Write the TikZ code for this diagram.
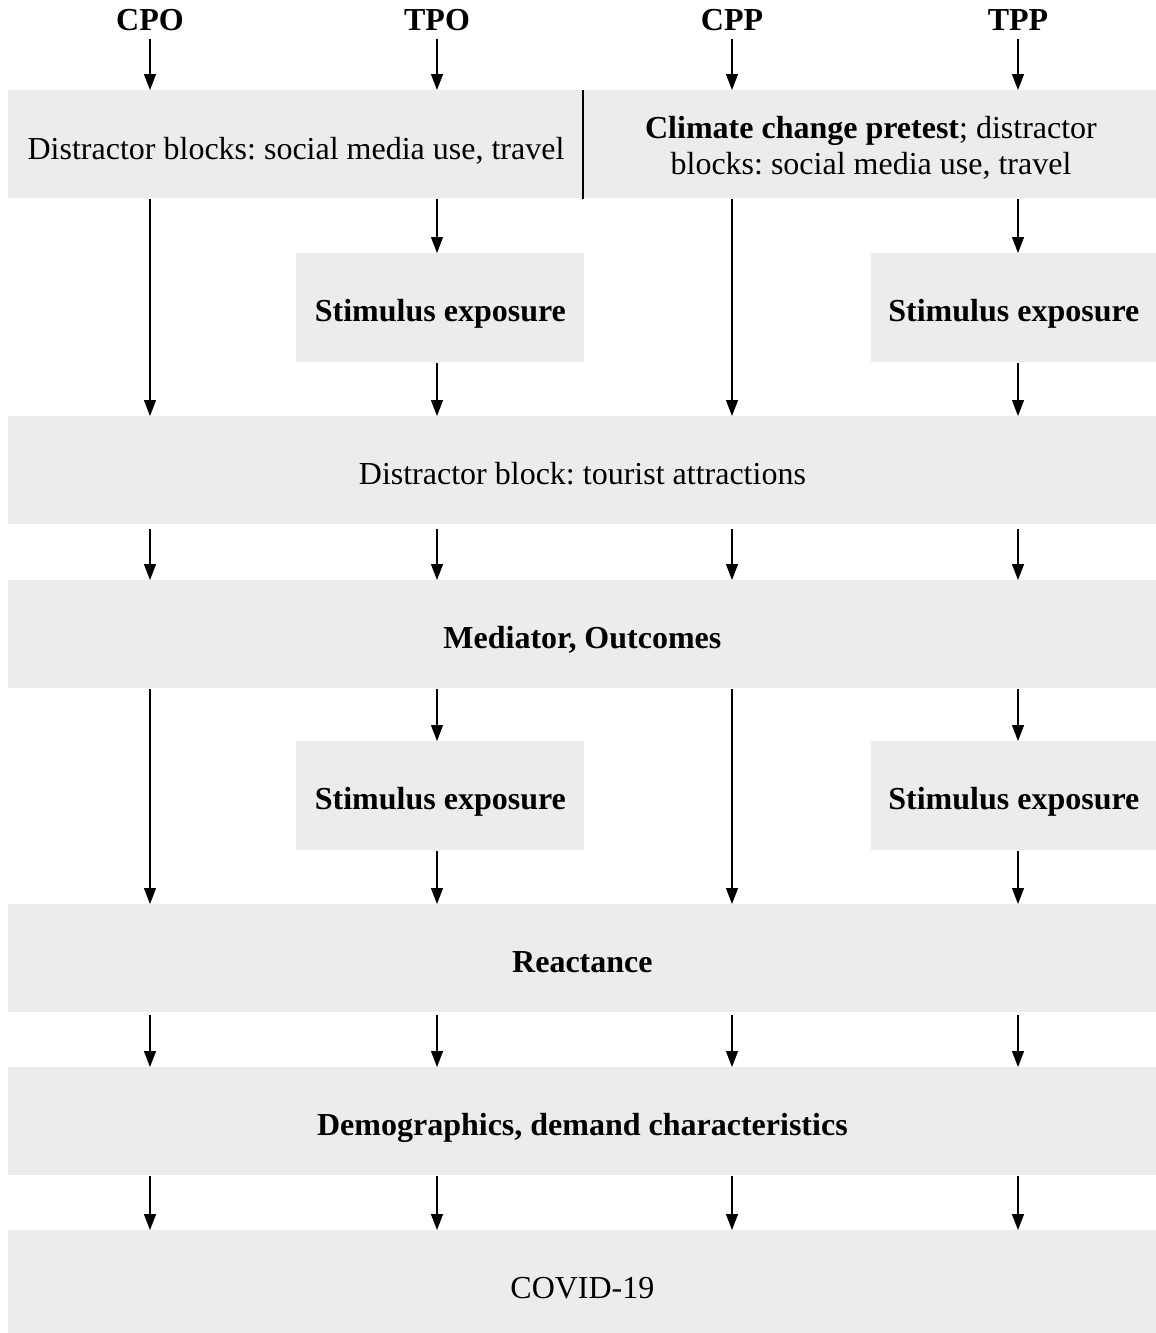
\documentclass[tikz,border=0pt]{standalone}
\usepackage{fontspec}
\setmainfont{Liberation Serif}
\usetikzlibrary{arrows.meta}
\definecolor{boxgray}{RGB}{236,236,236}
\frenchspacing
\begin{document}
\begin{tikzpicture}[x=0.5pt,y=-0.5pt,
  font=\fontsize{16}{18}\selectfont,
  blk/.style={fill=boxgray, draw=none, inner sep=0pt, anchor=north west, minimum height=54pt, text height=14pt, text depth=0pt},
  wide/.style={blk, minimum width=574pt},
  stim/.style={blk, minimum height=54.5pt, font=\fontsize{16}{18}\selectfont\bfseries},
  hdr/.style={font=\fontsize{16}{18}\selectfont\bfseries, inner sep=4pt},
  arr/.style={-{Triangle[length=8pt,width=6pt]}, line width=0.65pt},
  divider/.style={line width=1.2pt}]
\useasboundingbox (0,0) rectangle (1156,1333);
% columns
\coordinate (c1) at (150,0);
\coordinate (c2) at (437,0);
\coordinate (c3) at (732,0);
\coordinate (c4) at (1018,0);
\coordinate (div) at (583,0);
% headers
\node[hdr] (cpo) at (150,20) {CPO};
\node[hdr] (tpo) at (437,20) {TPO};
\node[hdr] (cpp) at (732,20) {CPP};
\node[hdr] (tpp) at (1018,20) {TPP};
% boxes
\node[wide] (r1) at (8,90) {};
\node[anchor=base] (r1l) at (296,159) {Distractor blocks: social media use, travel};
\node[align=center] (r1r) at (871,147.5) {\textbf{Climate change pretest}; distractor\\blocks: social media use, travel};
\node[stim, minimum width=144pt] (s1a) at (296,253) {Stimulus exposure};
\node[stim, minimum width=142.5pt] (s1b) at (871,253) {Stimulus exposure};
\node[wide] (r3) at (8,416) {Distractor block: tourist attractions};
\node[wide, font=\fontsize{16}{18}\selectfont\bfseries] (r4) at (8,580) {Mediator, Outcomes};
\node[stim, minimum width=144pt] (s2a) at (296,741) {Stimulus exposure};
\node[stim, minimum width=142.5pt] (s2b) at (871,741) {Stimulus exposure};
\node[wide, font=\fontsize{16}{18}\selectfont\bfseries] (r6) at (8,904) {Reactance};
\node[wide, font=\fontsize{16}{18}\selectfont\bfseries] (r7) at (8,1067) {Demographics, demand characteristics};
\node[wide] (r8) at (8,1230) {COVID-19};
% divider
\draw[divider] (r1.north -| div) -- (r1.south -| div);
% header arrows
\draw[arr] (cpo.south) -- (cpo.south |- r1.north);
\draw[arr] (tpo.south) -- (tpo.south |- r1.north);
\draw[arr] (cpp.south) -- (cpp.south |- r1.north);
\draw[arr] (tpp.south) -- (tpp.south |- r1.north);
% r1 down
\draw[arr] (r1.south -| c1) -- (r3.north -| c1);
\draw[arr] (r1.south -| c2) -- (s1a.north -| c2);
\draw[arr] (r1.south -| c3) -- (r3.north -| c3);
\draw[arr] (r1.south -| c4) -- (s1b.north -| c4);
\draw[arr] (s1a.south -| c2) -- (r3.north -| c2);
\draw[arr] (s1b.south -| c4) -- (r3.north -| c4);
% r3 -> r4
\foreach \c in {c1,c2,c3,c4}
  \draw[arr, shorten <=2pt] (r3.south -| \c) -- (r4.north -| \c);
% r4 down
\draw[arr] (r4.south -| c1) -- (r6.north -| c1);
\draw[arr] (r4.south -| c2) -- (s2a.north -| c2);
\draw[arr] (r4.south -| c3) -- (r6.north -| c3);
\draw[arr] (r4.south -| c4) -- (s2b.north -| c4);
\draw[arr] (s2a.south -| c2) -- (r6.north -| c2);
\draw[arr] (s2b.south -| c4) -- (r6.north -| c4);
% r6 -> r7 -> r8
\foreach \c in {c1,c2,c3,c4}{
  \draw[arr, shorten <=1pt] (r6.south -| \c) -- (r7.north -| \c);
  \draw[arr] (r7.south -| \c) -- (r8.north -| \c);
}
\end{tikzpicture}
\end{document}
